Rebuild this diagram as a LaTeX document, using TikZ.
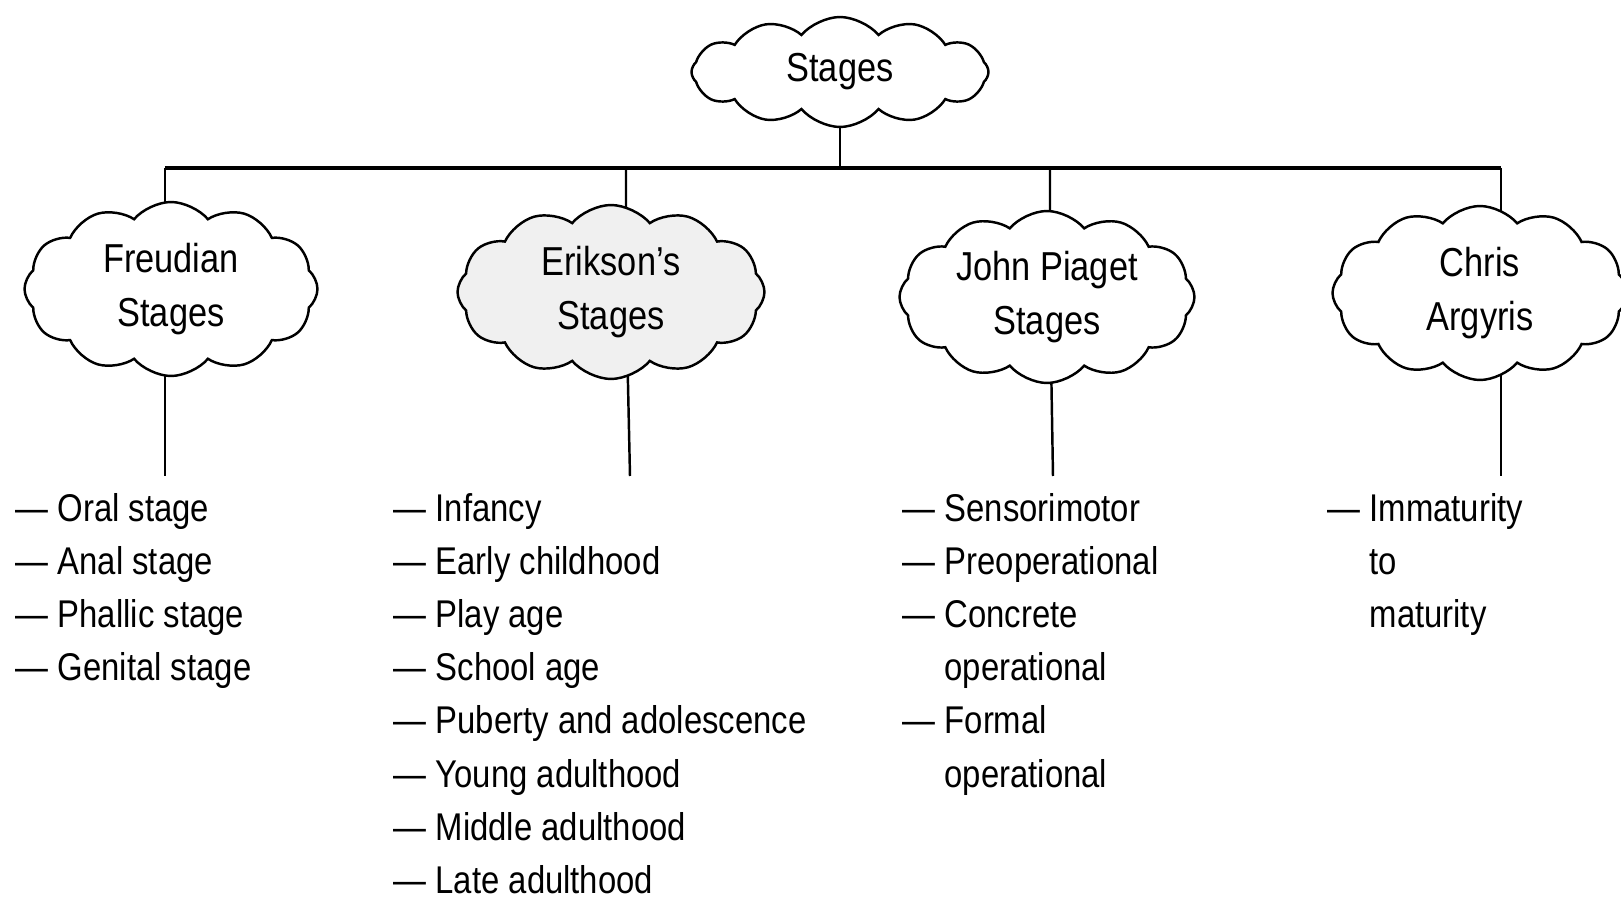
\documentclass[tikz,border=0pt]{standalone}
\usepackage{fontspec}
\setmainfont{Liberation Sans}[FakeStretch=0.85]
\usepackage{tikz}
\usetikzlibrary{shapes.symbols, backgrounds}

\newcommand{\dsh}{— }
\newcommand{\ind}{\hphantom{— }}

\begin{document}
\begin{tikzpicture}[
  cloudbox/.style={cloud,cloud puffs=12,cloud puff arc=100,cloud ignores aspect,draw,line width=0.7pt,fill=white,align=center,inner sep=-4pt,font=\fontsize{11.5}{15.3}\selectfont},
  itemlist/.style={anchor=north west,align=left,inner sep=0pt,font=\fontsize{11}{15.1}\selectfont},
  bus/.style={line width=1.1pt},
  stem/.style={line width=0.7pt}]
  \useasboundingbox (0,0) rectangle (16.21,-9.01);

  % clouds
  \node[cloudbox,minimum width=2.97cm,minimum height=1.10cm] (stages) at (8.40,-0.72) {Stages};
  \node[cloudbox,minimum width=2.93cm,minimum height=1.74cm] (freud) at (1.71,-2.89) {Freudian\\Stages};
  \node[cloudbox,minimum width=3.07cm,minimum height=1.74cm,fill=gray!12] (erik) at (6.11,-2.92) {Erikson's\\Stages};
  \node[cloudbox,minimum width=2.95cm,minimum height=1.72cm] (piaget) at (10.47,-2.97) {John Piaget\\Stages};
  \node[cloudbox,minimum width=2.95cm,minimum height=1.74cm] (chris) at (14.80,-2.93) {Chris\\Argyris};

  % lists
  \node[itemlist] (freudlist) at (0.15,-4.93) {\dsh Oral stage\\\dsh Anal stage\\\dsh Phallic stage\\\dsh Genital stage};
  \node[itemlist] (eriklist) at (3.93,-4.93) {\dsh Infancy\\\dsh Early childhood\\\dsh Play age\\\dsh School age\\\dsh Puberty and adolescence\\\dsh Young adulthood\\\dsh Middle adulthood\\\dsh Late adulthood};
  \node[itemlist] (piagetlist) at (9.02,-4.93) {\dsh Sensorimotor\\\dsh Preoperational\\\dsh Concrete\\\ind operational\\\dsh Formal\\\ind operational};
  \node[itemlist] (chrislist) at (13.27,-4.93) {\dsh Immaturity\\\ind to\\\ind maturity};

  % bus points
  \coordinate (fb) at (1.65,-1.68);
  \coordinate (eb) at (6.26,-1.68);
  \coordinate (pb) at (10.50,-1.68);
  \coordinate (cb) at (15.01,-1.68);

  \begin{scope}[on background layer]
    \draw[bus] (fb) -- (cb);
    \draw[stem] (stages.center) -- (stages.center |- fb);
    \draw[stem] (fb) -- (freud.center -| fb) -- ([yshift=1.7mm]freudlist.north -| fb);
    \draw[stem] (eb) -- (erik.center -| eb) -- ([xshift=0.4mm,yshift=1.7mm]eriklist.north -| eb);
    \draw[stem] (pb) -- (piaget.center -| pb) -- ([xshift=0.3mm,yshift=1.7mm]piagetlist.north -| pb);
    \draw[stem] (cb) -- (chris.center -| cb) -- ([yshift=1.7mm]chrislist.north -| cb);
  \end{scope}
\end{tikzpicture}
\end{document}
